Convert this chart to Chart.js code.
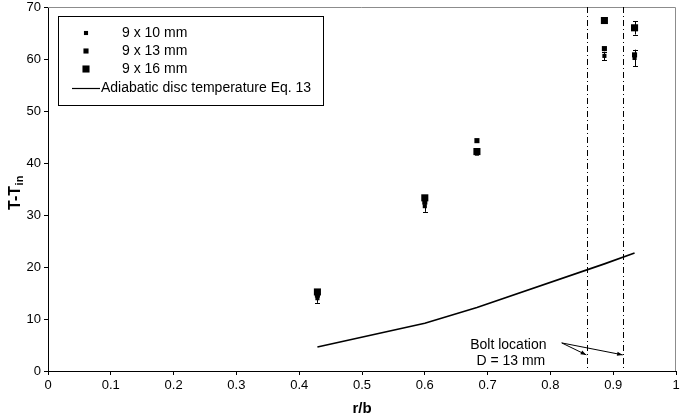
<!DOCTYPE html>
<html>
<head>
<meta charset="utf-8">
<script src="https://cdn.jsdelivr.net/npm/chart.js@4"></script>
<style>
  html, body { margin: 0; padding: 0; background: #fff; }
  #wrap { width: 681px; height: 419px; }
</style>
</head>
<body>
<div id="wrap"><canvas id="tempChart" width="681" height="419"></canvas></div>
<script>
// measurement positions (r/b) and temperature rise for each disc size
var rb = [0.429, 0.6, 0.683, 0.886, 0.934];
var seriesNames = ["9 x 10 mm", "9 x 13 mm", "9 x 16 mm"];
var size10 = [14.0, 31.7, 41.8, 60.6, 60.2];
var size13 = [14.6, 32.5, 44.3, 62.0, 60.8];
var size16 = [15.2, 33.3, 42.2, 67.4, 66.0];
// scatter (+/-) of the repeated runs
var size10Err = [0.9, 1.1, 0, 0.8, 1.6];
var size13Err = [0, 0, 0, 0, 0];
var size16Err = [0, 0, 0, 0, 1.3];

// adiabatic disc temperature, Eq. 13
var adiabaticName = "Adiabatic disc temperature Eq. 13";
var adiabaticX = [0.429, 0.6, 0.683, 0.886, 0.934];
var adiabaticY = [4.6, 9.2, 12.2, 20.6, 22.7];

// bolt location for D = 13 mm
var boltEdges = [0.858, 0.916];
var boltText = ["Bolt location", "D = 13 mm"];

var FONT = "'Liberation Sans', Arial, sans-serif";

function toPoints(xs, ys) {
  return xs.map(function (x, i) {
    return { x: x, y: ys[i] };
  });
}

var markerRadius = [2.9, 3.6, 5];

var chartData = {
  datasets: [
    {
      type: "line",
      label: adiabaticName,
      data: toPoints(adiabaticX, adiabaticY),
      borderColor: "#000",
      borderWidth: 1.6,
      pointRadius: 0,
      fill: false,
      order: 4,
    },
    {
      type: "scatter",
      label: seriesNames[0],
      data: toPoints(rb, size10),
      errors: size10Err,
      pointStyle: "rect",
      pointRadius: markerRadius[0],
      backgroundColor: "#000",
      borderWidth: 0,
      order: 1,
    },
    {
      type: "scatter",
      label: seriesNames[1],
      data: toPoints(rb, size13),
      errors: size13Err,
      pointStyle: "rect",
      pointRadius: markerRadius[1],
      backgroundColor: "#000",
      borderWidth: 0,
      order: 2,
    },
    {
      type: "scatter",
      label: seriesNames[2],
      data: toPoints(rb, size16),
      errors: size16Err,
      pointStyle: "rect",
      pointRadius: markerRadius[2],
      backgroundColor: "#000",
      borderWidth: 0,
      order: 3,
    },
  ],
};

// error bars, bolt lines, annotation, legend and axis titles
var extrasPlugin = {
  id: "extras",
  beforeDatasetsDraw: function (chart) {
    var ctx = chart.ctx;
    var area = chart.chartArea;
    var xs = chart.scales.x;

    // frame on top and right
    ctx.save();
    ctx.strokeStyle = "#8c8c8c";
    ctx.lineWidth = 1;
    ctx.beginPath();
    ctx.moveTo(area.left, area.top + 0.5);
    ctx.lineTo(area.right - 0.5, area.top + 0.5);
    ctx.lineTo(area.right - 0.5, area.bottom);
    ctx.stroke();

    // dash-dot lines at the bolt edges
    ctx.strokeStyle = "#000";
    ctx.setLineDash([6, 3, 1, 3]);
    boltEdges.forEach(function (v) {
      var px = Math.round(xs.getPixelForValue(v)) + 0.5;
      ctx.beginPath();
      ctx.moveTo(px, area.top);
      ctx.lineTo(px, area.bottom);
      ctx.stroke();
    });
    ctx.setLineDash([]);
    ctx.restore();
  },
  afterDatasetsDraw: function (chart) {
    var ctx = chart.ctx;
    var xs = chart.scales.x;
    var ys = chart.scales.y;

    ctx.save();
    ctx.strokeStyle = "#000";
    ctx.lineWidth = 1;
    chart.data.datasets.forEach(function (ds) {
      if (!ds.errors) return;
      ds.data.forEach(function (p, i) {
        var e = ds.errors[i];
        if (!e) return;
        var px = Math.round(xs.getPixelForValue(p.x)) + 0.5;
        var y1 = ys.getPixelForValue(p.y - e);
        var y2 = ys.getPixelForValue(p.y + e);
        ctx.beginPath();
        ctx.moveTo(px, y1);
        ctx.lineTo(px, y2);
        ctx.moveTo(px - 2.5, Math.round(y1) + 0.5);
        ctx.lineTo(px + 2.5, Math.round(y1) + 0.5);
        ctx.moveTo(px - 2.5, Math.round(y2) + 0.5);
        ctx.lineTo(px + 2.5, Math.round(y2) + 0.5);
        ctx.stroke();
      });
    });

    // annotation text with arrows
    ctx.fillStyle = "#000";
    ctx.font = "14px " + FONT;
    ctx.textAlign = "center";
    ctx.textBaseline = "middle";
    ctx.fillText(boltText[0], xs.getPixelForValue(0.733), ys.getPixelForValue(4.9));
    ctx.fillText(boltText[1], xs.getPixelForValue(0.737), ys.getPixelForValue(1.8));

    var sx = xs.getPixelForValue(0.818);
    var sy = ys.getPixelForValue(5.4);
    var ay = ys.getPixelForValue(3.1);
    boltEdges.forEach(function (v) {
      var ex = xs.getPixelForValue(v) - 0.5;
      var ang = Math.atan2(ay - sy, ex - sx);
      ctx.beginPath();
      ctx.moveTo(sx, sy);
      ctx.lineTo(ex, ay);
      ctx.stroke();
      ctx.beginPath();
      ctx.moveTo(ex, ay);
      ctx.lineTo(ex - 6 * Math.cos(ang - 0.35), ay - 6 * Math.sin(ang - 0.35));
      ctx.lineTo(ex - 6 * Math.cos(ang + 0.35), ay - 6 * Math.sin(ang + 0.35));
      ctx.closePath();
      ctx.fill();
    });

    // legend box
    var lx = 58, ly = 16, lw = 265, lh = 89;
    ctx.strokeStyle = "#000";
    ctx.strokeRect(lx + 0.5, ly + 0.5, lw, lh);
    ctx.textAlign = "left";
    ctx.font = "14px " + FONT;
    var rowY = [33, 51, 69, 88];
    seriesNames.forEach(function (name, i) {
      var s = Math.SQRT2 * markerRadius[i];
      ctx.fillRect(86 - s / 2, rowY[i] - s / 2, s, s);
      ctx.fillText(name, 122, rowY[i]);
    });
    ctx.lineWidth = 1.2;
    ctx.beginPath();
    ctx.moveTo(72, rowY[3] + 0.5);
    ctx.lineTo(100, rowY[3] + 0.5);
    ctx.stroke();
    ctx.fillText(adiabaticName, 101, rowY[3]);

    // axis titles
    ctx.font = "bold 15px " + FONT;
    ctx.textAlign = "center";
    ctx.textBaseline = "alphabetic";
    ctx.fillText("r/b", xs.getPixelForValue(0.5), 413);

    ctx.translate(14, 193);
    ctx.rotate(-Math.PI / 2);
    ctx.textAlign = "left";
    ctx.font = "bold 16px " + FONT;
    var main = "T-T";
    var wMain = ctx.measureText(main).width;
    ctx.font = "bold 11px " + FONT;
    var wSub = ctx.measureText("in").width;
    var start = -(wMain + wSub) / 2;
    ctx.font = "bold 16px " + FONT;
    ctx.fillText(main, start, 6);
    ctx.font = "bold 11px " + FONT;
    ctx.fillText("in", start + wMain + 0.5, 9);
    ctx.restore();
  },
};

new Chart(document.getElementById("tempChart"), {
  data: chartData,
  plugins: [extrasPlugin],
  options: {
    responsive: false,
    animation: false,
    devicePixelRatio: 1,
    layout: { padding: { top: 7, right: 1, left: 0, bottom: 0 } },
    plugins: {
      legend: { display: false },
      tooltip: { enabled: false },
    },
    scales: {
      x: {
        type: "linear",
        min: 0,
        max: 1,
        ticks: {
          stepSize: 0.1,
          color: "#000",
          font: { family: FONT, size: 13 },
          padding: 3,
          maxRotation: 0,
          callback: function (v) {
            return String(Number(v.toFixed(1)));
          },
        },
        grid: {
          drawOnChartArea: false,
          drawTicks: true,
          tickLength: 4,
          tickColor: "#000",
        },
        border: { display: true, color: "#000", width: 1 },
        afterFit: function (s) {
          s.height = 48;
          s.paddingLeft = 0;
          s.paddingRight = 0;
        },
      },
      y: {
        min: 0,
        max: 70,
        ticks: {
          stepSize: 10,
          color: "#000",
          font: { family: FONT, size: 13 },
          padding: 3,
        },
        grid: {
          drawOnChartArea: false,
          drawTicks: true,
          tickLength: 4,
          tickColor: "#000",
        },
        border: { display: true, color: "#000", width: 1 },
        afterFit: function (s) {
          s.width = 48;
          s.paddingTop = 0;
          s.paddingBottom = 0;
        },
      },
    },
  },
});
</script>
</body>
</html>
